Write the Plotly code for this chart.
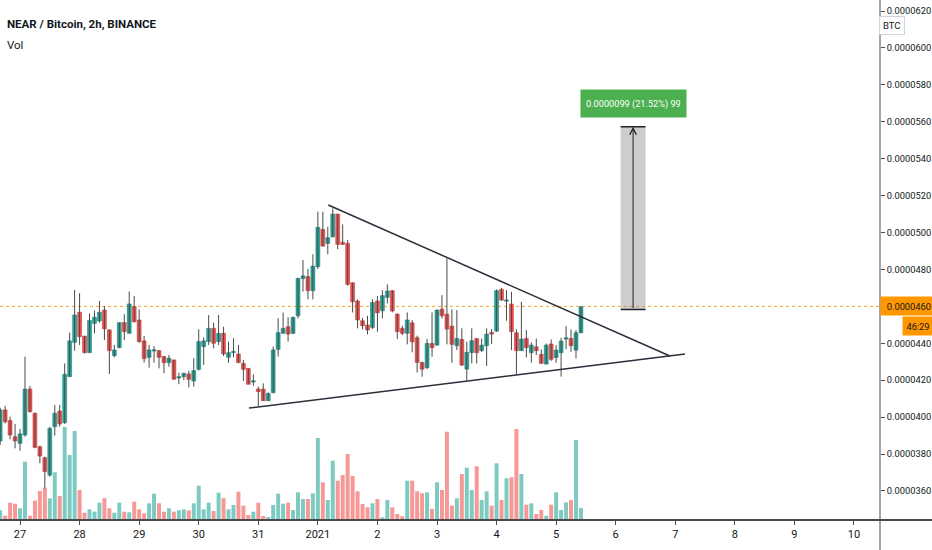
import plotly.graph_objects as go
import pandas as pd

# ---------------- data (prices in units of 1e-7 BTC) ----------------
PRICE_UNIT = 1e-7
first_candle = "2020-12-26 16:00"   # 2h candles

opens = [387.1, 403.9, 398.1, 389.4, 385.8, 390.3, 415.2, 402.1, 384.0, 378.0,
         368.6, 394.8, 403.3, 397.0, 421.9, 440.5, 456.8, 443.9, 434.9, 450.8,
         452.1, 458.0, 447.3, 433.3, 437.6, 451.2, 445.4, 459.9, 452.6, 441.3,
         432.4, 435.8, 436.0, 432.8, 429.5, 431.0, 421.2, 421.9, 423.4, 419.6,
         425.9, 438.2, 440.9, 448.1, 440.9, 445.4, 432.4, 434.9, 434.2, 429.1,
         426.4, 419.0, 415.2, 415.2, 408.9, 413.3, 436.7, 445.4, 449.0, 445.4,
         454.9, 475.1, 476.1, 468.5, 481.5, 501.7, 494.1, 497.7, 510.0, 494.7,
         494.1, 472.8, 462.9, 452.2, 449.9, 448.6, 462.9, 457.6, 464.9, 468.5,
         455.8, 448.1, 445.4, 451.1, 443.0, 429.6, 426.8, 439.9, 439.0, 458.5,
         455.8, 449.3, 438.7, 442.1, 426.0, 434.9, 442.6, 436.0, 438.7, 445.9,
         446.6, 469.2, 462.8, 461.2, 445.7, 436.0, 442.6, 434.9, 438.1, 434.0,
         428.7, 439.6, 432.3, 434.9, 442.3, 442.6, 436.3, 445.7]
highs = [405.1, 406.0, 400.3, 396.3, 393.6, 432.8, 416.9, 402.4, 384.5, 378.6,
         394.8, 406.6, 406.6, 429.1, 445.8, 468.9, 467.1, 444.0, 456.2, 457.7,
         462.9, 460.2, 447.3, 439.1, 451.2, 455.7, 468.0, 465.6, 458.4, 444.0,
         439.1, 438.5, 436.4, 433.1, 433.7, 431.0, 424.1, 424.1, 425.2, 431.9,
         447.6, 443.2, 455.3, 451.2, 455.3, 449.0, 440.9, 442.7, 439.1, 431.0,
         426.4, 423.2, 416.5, 418.3, 413.3, 438.2, 453.5, 456.6, 454.1, 454.5,
         475.5, 485.1, 480.2, 488.2, 511.3, 511.3, 503.1, 513.1, 510.0, 504.4,
         495.9, 472.8, 463.8, 453.8, 454.9, 463.9, 465.6, 468.8, 471.9, 468.8,
         456.2, 449.5, 456.7, 452.6, 444.1, 430.0, 442.3, 456.7, 458.2, 466.1,
         486.0, 458.4, 458.0, 448.1, 440.8, 448.1, 442.6, 442.6, 448.1, 447.7,
         469.2, 470.1, 468.8, 467.9, 447.5, 462.5, 447.2, 440.5, 442.6, 436.7,
         439.9, 442.1, 439.0, 443.0, 449.3, 447.5, 447.2, 460.2]
lows = [384.9, 396.6, 388.0, 383.1, 381.8, 389.4, 402.4, 383.1, 375.0, 361.4,
        367.7, 390.0, 394.8, 396.3, 421.9, 436.0, 439.1, 434.5, 434.9, 445.4,
        451.2, 441.8, 423.4, 432.4, 437.6, 441.8, 445.4, 451.2, 440.3, 429.5,
        426.8, 429.5, 426.4, 423.7, 427.3, 420.5, 417.8, 420.1, 416.1, 416.5,
        425.2, 428.2, 439.1, 437.3, 439.1, 433.1, 429.5, 432.4, 429.5, 419.6,
        417.8, 416.9, 406.0, 408.9, 408.9, 412.9, 432.8, 445.4, 440.9, 445.0,
        453.5, 468.0, 463.8, 463.8, 480.2, 492.3, 488.2, 497.4, 491.0, 493.2,
        471.2, 456.7, 448.1, 447.5, 444.8, 447.7, 446.3, 453.5, 461.6, 456.7,
        442.3, 444.4, 439.4, 435.1, 424.2, 421.9, 426.0, 432.7, 438.8, 453.5,
        439.4, 429.5, 436.3, 427.7, 419.7, 429.1, 429.1, 435.4, 427.7, 439.6,
        446.3, 463.0, 452.2, 436.3, 423.3, 436.0, 432.3, 429.5, 433.6, 429.1,
        428.7, 430.5, 429.5, 421.9, 436.7, 435.4, 431.8, 445.4]
closes = [403.9, 397.5, 390.3, 387.1, 390.9, 415.2, 403.0, 383.6, 378.9, 370.5,
          393.9, 402.1, 396.3, 423.2, 441.3, 455.3, 443.6, 434.9, 452.3, 454.1,
          456.8, 447.8, 436.0, 436.4, 451.2, 446.3, 461.3, 451.7, 440.9, 431.7,
          436.4, 436.4, 432.4, 429.5, 431.9, 420.5, 421.8, 423.7, 420.5, 425.2,
          440.9, 441.3, 448.1, 440.0, 445.4, 434.2, 434.9, 435.4, 429.5, 425.9,
          417.8, 419.6, 413.8, 408.9, 412.9, 436.4, 445.8, 448.1, 445.0, 454.0,
          475.1, 476.5, 468.5, 481.8, 502.8, 492.7, 497.2, 510.0, 493.6, 493.6,
          471.9, 462.5, 452.6, 449.5, 447.2, 462.1, 456.5, 465.8, 468.3, 457.5,
          446.3, 445.4, 452.6, 440.8, 429.6, 426.0, 439.9, 437.6, 458.0, 454.9,
          447.7, 439.4, 442.6, 428.2, 435.1, 441.4, 434.9, 439.0, 445.0, 445.0,
          468.5, 463.4, 463.2, 446.3, 436.0, 442.3, 437.6, 439.0, 436.0, 429.1,
          439.0, 431.3, 436.3, 441.2, 442.6, 438.7, 445.7, 459.8]
volumes = [9.7, 4.3, 17.3, 16.3, 11.7, 58.3, 4.3, 19.3, 29.0, 32.3,
           21.7, 47.7, 24.0, 93.0, 65.0, 89.0, 30.0, 7.3, 10.7, 8.3,
           17.3, 21.7, 11.7, 7.3, 17.3, 8.3, 7.7, 18.3, 10.7, 6.7,
           16.7, 26.3, 16.7, 8.3, 11.7, 8.3, 9.7, 10.7, 9.7, 16.7,
           34.3, 10.7, 17.3, 9.0, 27.3, 21.7, 10.7, 15.0, 28.3, 14.3,
           5.0, 8.3, 17.3, 4.0, 3.0, 15.0, 26.3, 16.3, 17.3, 10.0,
           27.7, 21.0, 21.0, 26.7, 82.0, 37.7, 20.0, 59.3, 39.3, 45.0,
           66.0, 44.0, 28.7, 16.0, 12.7, 16.7, 21.0, 2.7, 20.0, 12.7,
           6.0, 3.7, 39.3, 39.3, 28.7, 26.7, 27.7, 11.0, 37.7, 30.0,
           88.3, 14.3, 21.7, 46.0, 52.3, 30.0, 53.7, 20.0, 28.7, 14.3,
           56.7, 20.0, 41.7, 42.7, 91.0, 46.0, 15.3, 16.7, 6.0, 10.0,
           4.3, 15.3, 27.7, 10.0, 17.7, 20.0, 80.0, 12.0]

day_ticks = ["2020-12-27", "2020-12-28", "2020-12-29", "2020-12-30", "2020-12-31",
             "2021-01-01", "2021-01-02", "2021-01-03", "2021-01-04", "2021-01-05",
             "2021-01-06", "2021-01-07", "2021-01-08", "2021-01-09", "2021-01-10"]
day_labels = ["27", "28", "29", "30", "31", "2021", "2", "3", "4", "5",
              "6", "7", "8", "9", "10"]
price_ticks = [360, 380, 400, 420, 440, 460, 480, 500, 520, 540, 560, 580, 600, 620]
price_labels = ["0.0000360", "0.0000380", "0.0000400", "0.0000420", "0.0000440",
                "0.0000460", "0.0000480", "0.0000500", "0.0000520", "0.0000540",
                "0.0000560", "0.0000580", "0.0000600", "0.0000620"]

upper_trend_t = ["2021-01-01 04:12", "2021-01-06 21:50"]
upper_trend_p = [514.9, 433.1]
lower_trend_t = ["2020-12-30 20:15", "2021-01-07 03:55"]
lower_trend_p = [404.9, 434.2]

measure_t = ["2021-01-06 02:00", "2021-01-06 12:00"]
measure_mid_t = "2021-01-06 07:00"
measure_p = [458.3, 557.3]
measure_label_p = 569.8
measure_text = "0.0000099 (21.52%) 99"

last_price = 460
last_price_text = "0.0000460"
countdown_text = "46:29"
countdown_p = 449.4

x_range = ["2020-12-26 15:56", "2021-01-10 10:29"]
y_range = [344.27, 625.96]

title_text = "NEAR / Bitcoin, 2h, BINANCE"

# ---------------- styling ----------------
FONT = "Roboto, Arial, sans-serif"
UP = "#26a69a"
DOWN = "#ef5350"
UP_VOL = "rgba(38,166,154,0.6)"
DOWN_VOL = "rgba(239,83,80,0.6)"
TXT = "#131722"
BAR_MS = 2 * 3600 * 1000

times = pd.date_range(first_candle, periods=len(opens), freq="2h")
P = lambda v: v * PRICE_UNIT

up = [c >= o for o, c in zip(opens, closes)]

fig = go.Figure()

# volume
fig.add_trace(go.Bar(
    x=times, y=volumes, yaxis="y2",
    marker=dict(color=[UP_VOL if u else DOWN_VOL for u in up], line=dict(width=0)),
    width=BAR_MS * 0.8, hoverinfo="skip", showlegend=False))

# wicks
wx, wy = [], []
for t, h, l in zip(times, highs, lows):
    wx += [t, t, None]
    wy += [P(h), P(l), None]
fig.add_trace(go.Scatter(x=wx, y=wy, mode="lines",
                         line=dict(color="#4a4a4a", width=1),
                         hoverinfo="skip", showlegend=False))

# bodies
base = [P(min(o, c)) for o, c in zip(opens, closes)]
height = [P(max(abs(c - o), 0.7)) for o, c in zip(opens, closes)]
fig.add_trace(go.Bar(
    x=times, y=height, base=base,
    marker=dict(color=[UP if u else DOWN for u in up],
                line=dict(color=["#1c7f76" if u else "#c43a37" for u in up], width=0.6)),
    width=BAR_MS * 0.78, hoverinfo="skip", showlegend=False))

# trend lines
for tt, pp in ((upper_trend_t, upper_trend_p), (lower_trend_t, lower_trend_p)):
    fig.add_trace(go.Scatter(x=tt, y=[P(v) for v in pp], mode="lines",
                             line=dict(color="#2a2e39", width=1.5),
                             hoverinfo="skip", showlegend=False))

shapes = [
    dict(type="line", xref="paper", x0=0, x1=1, yref="y", y0=P(last_price), y1=P(last_price),
         line=dict(color="#f5a623", width=1, dash="dot"), layer="below"),
    dict(type="rect", xref="x", yref="y", x0=measure_t[0], x1=measure_t[1],
         y0=P(measure_p[0]), y1=P(measure_p[1]),
         fillcolor="rgba(150,150,150,0.48)", line=dict(width=0)),
    dict(type="line", xref="x", yref="y", x0=measure_t[0], x1=measure_t[1],
         y0=P(measure_p[0]), y1=P(measure_p[0]), line=dict(color="#222", width=1.5)),
    dict(type="line", xref="x", yref="y", x0=measure_t[0], x1=measure_t[1],
         y0=P(measure_p[1]), y1=P(measure_p[1]), line=dict(color="#222", width=1.5)),
    dict(type="line", xref="paper", yref="paper", x0=0, x1=932 / 880, y0=0, y1=0,
         line=dict(color="#4a4a4a", width=2)),
    dict(type="line", xref="paper", yref="paper", x0=1, x1=1, y0=-30 / 520, y1=1,
         line=dict(color="#4a4a4a", width=1)),
]

annotations = [
    dict(xref="x", yref="y", x=measure_mid_t, y=P(measure_p[1]),
         axref="x", ayref="y", ax=measure_mid_t, ay=P(measure_p[0]),
         text="", showarrow=True, arrowhead=5, arrowsize=1.3, arrowwidth=1,
         arrowcolor="#222"),
    dict(xref="x", yref="y", x=measure_mid_t, y=P(measure_label_p), text=measure_text,
         showarrow=False, bgcolor="#4caf50", borderpad=5, height=17,
         font=dict(family=FONT, size=9.2, color="white")),
    dict(xref="paper", yref="paper", x=5 / 880, y=1 - 15 / 520, xanchor="left",
         text="<b>" + title_text + "</b>", showarrow=False,
         font=dict(family=FONT, size=11.5, color=TXT)),
    dict(xref="paper", yref="paper", x=5 / 880, y=1 - 36 / 520, xanchor="left",
         text="Vol", showarrow=False, font=dict(family=FONT, size=11.5, color=TXT)),
    dict(xref="paper", yref="y", x=1, y=P(last_price), xanchor="left", text=last_price_text,
         showarrow=False, bgcolor="#ff9800", width=48, height=14, borderpad=2,
         align="right", font=dict(family=FONT, size=9.3, color=TXT)),
    dict(xref="paper", yref="y", x=902 / 880, y=P(countdown_p), xanchor="left",
         text=countdown_text, showarrow=False, bgcolor="#ff9800", width=26, height=14,
         borderpad=2, align="center", font=dict(family=FONT, size=9.3, color=TXT)),
    dict(xref="paper", yref="paper", x=905 / 880, y=1 - 16 / 520, text="BTC",
         showarrow=False, bgcolor="white", bordercolor="#d1d4dc", borderwidth=1,
         borderpad=3, font=dict(family=FONT, size=9.5, color=TXT)),
]

fig.update_layout(
    width=932, height=550,
    margin=dict(l=0, r=52, t=0, b=30, autoexpand=False),
    paper_bgcolor="white", plot_bgcolor="white",
    barmode="overlay", showlegend=False,
    shapes=shapes, annotations=annotations,
    font=dict(family=FONT, color=TXT),
    xaxis=dict(type="date", range=x_range, tickvals=day_ticks, ticktext=day_labels,
               showgrid=False, zeroline=False, showline=False, automargin=False,
               ticks="outside", ticklen=4, tickcolor="#4a4a4a",
               tickfont=dict(family=FONT, size=11, color=TXT),
               rangeslider=dict(visible=False), fixedrange=True),
    yaxis=dict(side="right", range=[P(y_range[0]), P(y_range[1])],
               tickvals=[P(v) for v in price_ticks], ticktext=price_labels,
               showgrid=False, zeroline=False, showline=False, automargin=False,
               ticks="outside", ticklen=4, tickcolor="#4a4a4a",
               tickfont=dict(family=FONT, size=9.3, color=TXT), fixedrange=True),
    yaxis2=dict(overlaying="y", range=[0, 520], visible=False, fixedrange=True,
                automargin=False),
)

fig.write_html("out.html", config={"displayModeBar": False},
               post_script="document.body.style.margin='0';document.body.style.overflow='hidden';")
